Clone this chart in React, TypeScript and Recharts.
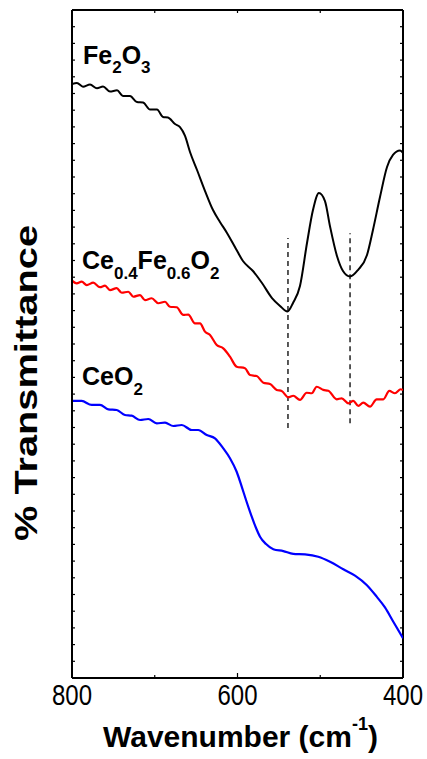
import React from 'react';
import { LineChart, Line, XAxis, YAxis, ReferenceLine } from 'recharts';

// wavenumber (cm-1), transmittance (arbitrary, offset units)
const fe2o3: [number, number][] = [
  [800, 35.57], [794, 35.63], [786.7, 35.41], [778.2, 35.54], [769.8, 35.31], [762.5, 35.42],
  [754.1, 35.12], [745.6, 35.19], [738.4, 34.85], [729.9, 34.85], [721.5, 34.49], [714.2, 34.46],
  [705.7, 34.04], [697.3, 34.04], [690, 33.59], [684, 33.56], [675.5, 33.17], [669.5, 32.99],
  [663.4, 32.46], [657.4, 31.5], [648.9, 30.42], [639.2, 29.16], [629.6, 28.02], [621.2, 27.31],
  [612.7, 26.65], [601.8, 25.69], [593.4, 24.97], [581.3, 24.37], [570.4, 23.65], [558.3, 22.75],
  [548.6, 22.28], [539.6, 21.95], [532.9, 22.46], [524.5, 23.47], [516, 26.05], [508.8, 28.02],
  [501.6, 29.04], [494.3, 28.56], [488.3, 27.07], [479.8, 25.27], [472.5, 24.37], [464, 24.04],
  [454.4, 24.43], [443.5, 25.33], [436.3, 26.83], [427.8, 28.8], [419.3, 30.6], [412.1, 31.32],
  [403.6, 31.59], [400, 31.44],
];

const ceFeO2: [number, number][] = [
  [800, 23.79], [794.3, 23.63], [788.3, 23.73], [782.2, 23.53], [774.3, 23.67], [766.2, 23.4],
  [760.1, 23.49], [754.1, 23.23], [746, 23.34], [739.9, 23.07], [732, 23.13], [725.9, 22.83],
  [717.8, 22.93], [711.8, 22.63], [703.7, 22.74], [695.7, 22.44], [687.6, 22.53], [681.6, 22.23],
  [673.5, 22.2], [665.5, 21.74], [659.5, 21.76], [651.4, 21.24], [645.3, 21.24], [639.3, 20.74],
  [633.2, 20.54], [625.1, 19.94], [617.2, 19.74], [609.1, 19.24], [601, 18.64], [590.9, 18.55],
  [584.9, 18.14], [576.8, 18.08], [568.8, 17.68], [560.7, 17.6], [552.6, 17.25], [546.6, 17.19],
  [538.6, 16.81], [532.6, 16.9], [524.5, 16.65], [516.4, 17.08], [510.3, 17.05], [504.3, 17.44],
  [496.3, 17.25], [490.3, 17.2], [480.1, 16.69], [474.1, 16.75], [466.1, 16.45], [460.1, 16.6],
  [454, 16.29], [448, 16.49], [439.9, 16.25], [431.8, 16.69], [423.8, 16.69], [416.6, 17.19],
  [409.7, 17.05], [402.8, 17.29], [400, 17.25],
];

const ceo2: [number, number][] = [
  [800, 16.6], [788.3, 16.59], [776.2, 16.35], [766.2, 16.35], [756.1, 16.09], [746, 16.05],
  [736, 15.75], [727.9, 15.71], [717.8, 15.45], [707.8, 15.51], [697.6, 15.25], [687.6, 15.29],
  [677.6, 15.09], [667.4, 15.15], [655.3, 14.85], [647.4, 14.85], [637.2, 14.55], [627.2, 14.35],
  [617.2, 13.75], [609.1, 13.16], [601, 12.35], [594.9, 11.46], [589.7, 10.66], [582.8, 9.66],
  [577.6, 8.98], [572.8, 8.46], [565.5, 8.02], [556.7, 7.71], [544.7, 7.6], [532.6, 7.43],
  [518.4, 7.4], [502.4, 7.26], [488.2, 6.96], [472.1, 6.51], [458, 6.13], [443.9, 5.57],
  [431.8, 4.87], [421.8, 4.23], [411.7, 3.37], [400, 2.38],
];

// band positions marked with dashed lines: [wavenumber, bottom, top]
const bands: [number, number, number][] = [
  [539, 14.97, 26.35],
  [464, 15.25, 26.63],
];

const xTicks = [800, 700, 600, 500, 400];
const xLabels = [800, 600, 400];
const yTicks = Array.from({ length: 41 }, (_, i) => i);

const W = 427;
const H = 759;
const LEFT = 72;
const RIGHT = 403;
const TOP = 10;
const BOTTOM = 678;
const Y_AXIS_W = 40;
const X_AXIS_H = 30;
const FONT = '"Liberation Sans", Arial, Helvetica, sans-serif';

const toPts = (arr: [number, number][]) => arr.map(([w, v]) => ({ w, v }));

const XTick = ({ x, payload }: any) => {
  const v = payload.value;
  const major = xLabels.includes(v);
  return (
    <g>
      <line x1={x} x2={x} y1={BOTTOM} y2={BOTTOM - (major ? 5 : 3)} stroke="#000" strokeWidth={1.2} />
      <line x1={x} x2={x} y1={TOP} y2={TOP + 3} stroke="#000" strokeWidth={1.2} />
      {major && (
        <g transform={`translate(${x},705) scale(0.8,1)`}>
          <text x={0} y={0} textAnchor="middle" fontFamily={FONT} fontSize={30} fill="#000">
            {v}
          </text>
        </g>
      )}
    </g>
  );
};

const YTick = ({ y }: any) => (
  <g>
    <line x1={LEFT} x2={LEFT + 3} y1={y} y2={y} stroke="#000" strokeWidth={1.2} />
    <line x1={RIGHT} x2={RIGHT - 3} y1={y} y2={y} stroke="#000" strokeWidth={1.2} />
  </g>
);

export default function App() {
  return (
    <div style={{ position: 'absolute', left: 0, top: 0, width: W, height: H, background: '#fff' }}>
      <LineChart
        width={W}
        height={H}
        margin={{ top: TOP, right: W - RIGHT, left: LEFT - Y_AXIS_W, bottom: H - BOTTOM - X_AXIS_H }}
      >
        <XAxis
          type="number"
          dataKey="w"
          domain={[400, 800]}
          reversed
          ticks={xTicks}
          height={X_AXIS_H}
          tickLine={false}
          tick={<XTick />}
          axisLine={{ stroke: '#000', strokeWidth: 2 }}
          allowDataOverflow
        />
        <YAxis
          type="number"
          dataKey="v"
          domain={[0, 40]}
          ticks={yTicks}
          width={Y_AXIS_W}
          tickLine={false}
          tick={<YTick />}
          axisLine={{ stroke: '#000', strokeWidth: 2 }}
          allowDataOverflow
          interval={0}
        />
        <ReferenceLine y={40} stroke="#000" strokeWidth={2} />
        <ReferenceLine x={400} stroke="#000" strokeWidth={2} />
        <ReferenceLine y={0} stroke="#000" strokeWidth={2} />
        <ReferenceLine x={800} stroke="#000" strokeWidth={2} />
        {bands.map(([w, lo, hi], i) => (
          <ReferenceLine
            key={i}
            segment={[{ x: w, y: lo }, { x: w, y: hi }]}
            stroke="#000"
            strokeWidth={1.3}
            strokeDasharray="5 4"
          />
        ))}
        <Line data={toPts(fe2o3)} dataKey="v" type="monotone" stroke="#000" strokeWidth={2} dot={false} isAnimationActive={false} />
        <Line data={toPts(ceFeO2)} dataKey="v" type="monotone" stroke="#ff0000" strokeWidth={2.2} dot={false} isAnimationActive={false} />
        <Line data={toPts(ceo2)} dataKey="v" type="monotone" stroke="#0000ff" strokeWidth={2.2} dot={false} isAnimationActive={false} />
      </LineChart>
      <svg
        width={W}
        height={H}
        style={{ position: 'absolute', left: 0, top: 0, pointerEvents: 'none' }}
        fontFamily={FONT}
        fontWeight="bold"
        fill="#000"
      >
        <text x={83} y={63.5} fontSize={25}>
          Fe<tspan fontSize={17} dy={9}>2</tspan>
          <tspan dy={-9}>O</tspan>
          <tspan fontSize={17} dy={9}>3</tspan>
        </text>
        <text x={82} y={268.5} fontSize={25}>
          Ce<tspan fontSize={17} dy={10}>0.4</tspan>
          <tspan dy={-10}>Fe</tspan>
          <tspan fontSize={17} dy={10}>0.6</tspan>
          <tspan dy={-10}>O</tspan>
          <tspan fontSize={17} dy={10}>2</tspan>
        </text>
        <text x={82} y={385} fontSize={25}>
          CeO<tspan fontSize={17} dy={10}>2</tspan>
        </text>
        <text x={103} y={746.5} fontSize={30} textLength={275} lengthAdjust="spacingAndGlyphs">
          Wavenumber (cm<tspan fontSize={18} dy={-17}>-1</tspan>
          <tspan dy={17}>)</tspan>
        </text>
        <text
          x={0}
          y={0}
          fontSize={32}
          textAnchor="middle"
          textLength={316}
          lengthAdjust="spacingAndGlyphs"
          transform="translate(36.5,383) rotate(-90)"
        >
          % Transmittance
        </text>
      </svg>
    </div>
  );
}
